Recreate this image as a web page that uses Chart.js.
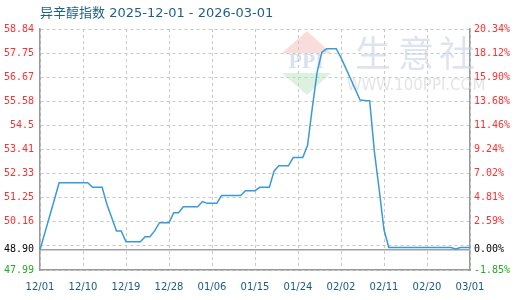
<!DOCTYPE html>
<html>
<head>
<meta charset="utf-8">
<script src="https://cdn.jsdelivr.net/npm/chart.js@4.4.0/dist/chart.umd.min.js"></script>
<style>
  html, body { margin: 0; padding: 0; background: #fff; }
  #wrap { width: 520px; height: 300px; position: relative; }
</style>
</head>
<body>
<div id="wrap"><canvas id="chart"></canvas></div>
<script>
// chart data
const chartTitle = '异辛醇指数 2025-12-01 - 2026-03-01';
const firstDay = '2025-12-01';
const indexValues = [
  48.90, 49.65, 50.40, 51.15, 51.92, 51.92, 51.92, 51.92, 51.92, 51.92,
  51.92, 51.71, 51.71, 51.71, 50.95, 50.35, 49.75, 49.75, 49.26, 49.26,
  49.26, 49.26, 49.49, 49.49, 49.75, 50.12, 50.12, 50.12, 50.57, 50.57,
  50.84, 50.84, 50.84, 50.84, 51.07, 50.99, 50.99, 50.99, 51.34, 51.34,
  51.34, 51.34, 51.34, 51.56, 51.56, 51.56, 51.71, 51.71, 51.71, 52.45,
  52.68, 52.68, 52.68, 53.05, 53.05, 53.05, 53.60, 55.30, 56.90, 57.80,
  57.95, 57.95, 57.95, 57.55, 57.08, 56.60, 56.12, 55.64, 55.62, 55.61,
  53.30, 51.60, 49.80, 49.00, 49.00, 49.00, 49.00, 49.00, 49.00, 49.00,
  49.00, 49.00, 49.00, 49.00, 49.00, 49.00, 49.00, 48.94, 49.00, 49.00,
  49.00
];
const xTickLabels = ['12/01', '12/10', '12/19', '12/28', '01/06', '01/15', '01/24', '02/02', '02/11', '02/20', '03/01'];
const baseValue = 48.90;
const yMin = 47.99;
const yMax = 58.84;
const yTicks = [47.99, 48.90, 49.08, 50.16, 51.25, 52.33, 53.41, 54.50, 55.58, 56.67, 57.75, 58.84];
const yTickLabels = ['47.99', '48.90', '', '50.16', '51.25', '52.33', '53.41', '54.5', '55.58', '56.67', '57.75', '58.84'];
const pctTickLabels = ['-1.85%', '0.00%', '', '2.59%', '4.81%', '7.02%', '9.24%', '11.46%', '13.68%', '15.90%', '18.12%', '20.34%'];

// one label per day
const dayLabels = [];
const d0 = new Date(firstDay + 'T00:00:00');
for (let i = 0; i < indexValues.length; i++) {
  const d = new Date(d0.getTime() + i * 86400000);
  dayLabels.push(String(d.getMonth() + 1).padStart(2, '0') + '/' + String(d.getDate()).padStart(2, '0'));
}

const tickFont = { family: 'DejaVu Sans Mono', size: 10 };
const tickColor = (v) => v > baseValue + 0.001 ? '#ff3030' : (v < baseValue - 0.001 ? '#22aa22' : '#000');

const setTicks = (scale) => { scale.ticks = yTicks.map(v => ({ value: v })); };

// title, watermark and base line
const decor = {
  id: 'decor',
  beforeDatasetsDraw(chart) {
    const { ctx, chartArea: a, scales } = chart;
    ctx.save();
    // watermark
    ctx.fillStyle = 'rgba(240,180,175,0.45)';
    ctx.beginPath();
    ctx.moveTo(307, 31); ctx.lineTo(331, 53); ctx.lineTo(282, 53); ctx.closePath(); ctx.fill();
    ctx.fillStyle = 'rgba(180,225,185,0.45)';
    ctx.beginPath();
    ctx.moveTo(282, 73); ctx.lineTo(331, 73); ctx.lineTo(307, 95); ctx.closePath(); ctx.fill();
    ctx.fillStyle = 'rgba(190,205,230,0.6)';
    ctx.font = 'bold 18px "DejaVu Serif"';
    ctx.textBaseline = 'middle';
    ctx.textAlign = 'center';
    ctx.fillText('PPI', 306, 63);
    ctx.fillStyle = 'rgba(200,210,228,0.6)';
    ctx.font = '36px "Noto Sans CJK SC"';
    ctx.fillText('生', 373, 53);
    ctx.fillText('意', 416, 53);
    ctx.fillText('社', 457, 53);
    ctx.fillStyle = 'rgba(205,205,205,0.55)';
    ctx.font = '15px "DejaVu Sans"';
    ctx.fillText('WWW.100PPI.COM', 416, 86);
    // base line
    const y = scales.y.getPixelForValue(baseValue);
    ctx.strokeStyle = '#a0a0a0';
    ctx.lineWidth = 1.5;
    ctx.beginPath();
    ctx.moveTo(a.left, y); ctx.lineTo(a.right, y);
    ctx.stroke();
    ctx.restore();
  },
  afterDraw(chart) {
    const { ctx } = chart;
    ctx.save();
    ctx.fillStyle = '#1f5f8b';
    ctx.font = '13px "DejaVu Sans", "Noto Sans CJK SC"';
    ctx.textBaseline = 'middle';
    ctx.textAlign = 'left';
    ctx.fillText(chartTitle, 40, 14);
    ctx.restore();
  }
};

new Chart(document.getElementById('chart'), {
  type: 'line',
  data: {
    labels: dayLabels,
    datasets: [{
      data: indexValues,
      borderColor: '#3a9ad9',
      borderWidth: 1.5,
      fill: false,
      tension: 0,
      pointRadius: 0
    }]
  },
  options: {
    responsive: true,
    maintainAspectRatio: false,
    animation: false,
    layout: { padding: { top: 29, left: 0, right: 0, bottom: 0 } },
    plugins: { legend: { display: false }, tooltip: { enabled: false }, title: { display: false } },
    scales: {
      x: {
        offset: false,
        afterFit: (s) => { s.height = 30; },
        grid: {
          drawTicks: false,
          color: (c) => (c.index % 9 === 0 ? '#c8c8c8' : 'rgba(0,0,0,0)')
        },
        border: { color: '#999', width: 1.5, dash: [3, 3] },
        ticks: {
          autoSkip: false,
          maxRotation: 0,
          padding: 11,
          color: '#1a5a8a',
          font: { family: 'DejaVu Sans', size: 10 },
          callback: (v, i) => (i % 9 === 0 ? xTickLabels[i / 9] : '')
        }
      },
      y: {
        position: 'left',
        min: yMin,
        max: yMax,
        afterBuildTicks: setTicks,
        afterFit: (s) => { s.width = 40; },
        grid: {
          drawTicks: false,
          color: (c) => (c.tick && Math.abs(c.tick.value - baseValue) < 0.001 ? 'rgba(0,0,0,0)' : '#c8c8c8')
        },
        border: { color: '#999', width: 1.5, dash: [3, 3] },
        ticks: {
          padding: 6,
          font: tickFont,
          color: (c) => tickColor(c.tick.value),
          callback: (v, i) => yTickLabels[i]
        }
      },
      y1: {
        position: 'right',
        min: yMin,
        max: yMax,
        afterBuildTicks: setTicks,
        afterFit: (s) => { s.width = 50; },
        grid: { drawOnChartArea: false, drawTicks: false },
        border: { color: '#999', width: 1.5 },
        ticks: {
          padding: 4,
          font: tickFont,
          color: (c) => tickColor(c.tick.value),
          callback: (v, i) => pctTickLabels[i]
        }
      }
    }
  },
  plugins: [decor]
});
</script>
</body>
</html>
